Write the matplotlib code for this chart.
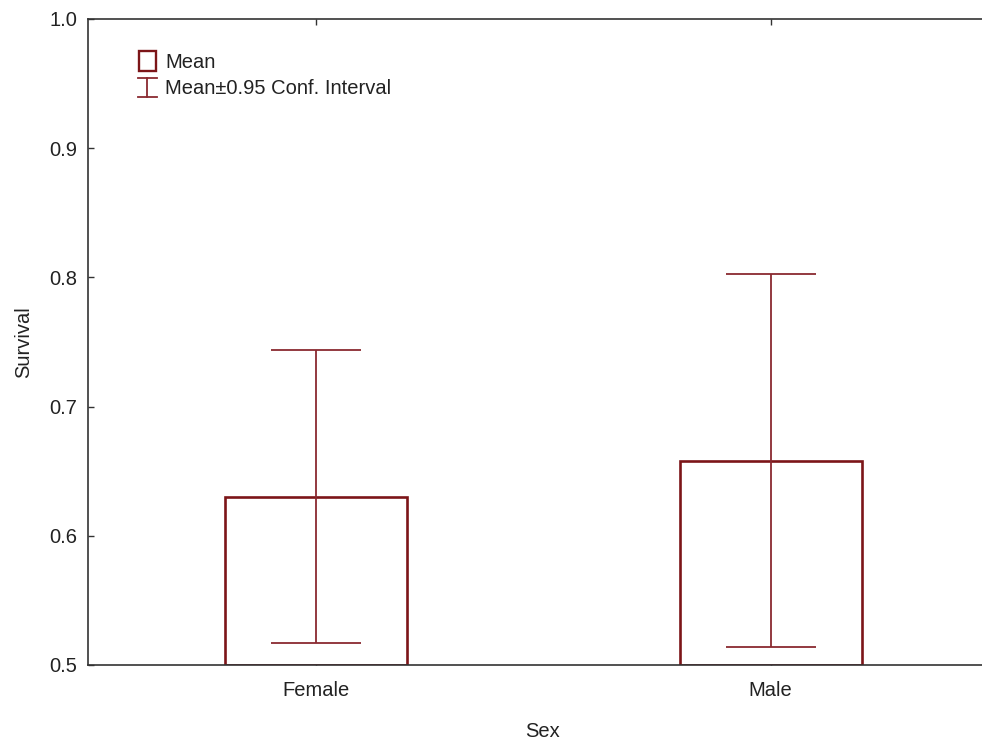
import matplotlib
matplotlib.use("Agg")
import matplotlib.pyplot as plt
from matplotlib.patches import Rectangle
from matplotlib.lines import Line2D

categories = ["Female", "Male"]
means = [0.630, 0.658]
ci_low = [0.517, 0.514]
ci_high = [0.744, 0.803]
y_ticks = [0.5, 0.6, 0.7, 0.8, 0.9, 1.0]
legend_labels = ["Mean", "Mean±0.95 Conf. Interval"]

plt.rcParams['font.family'] = ['Liberation Sans', 'DejaVu Sans']
bar_col = '#7c1518'
err_col = '#8a2a30'
txt_col = '#222222'
fs = 14.5

fig = plt.figure(figsize=(9.82, 7.44), dpi=100)
W, H = 982, 744
ax = fig.add_axes([88 / W, (H - 665) / H, 910 / W, 646 / H])

x = list(range(len(categories)))
ax.bar(x, [m - 0.5 for m in means], bottom=0.5, width=0.4, facecolor='white',
       edgecolor=bar_col, linewidth=1.9, zorder=2)
yerr = [[m - l for m, l in zip(means, ci_low)], [h - m for m, h in zip(means, ci_high)]]
ax.errorbar(x, means, yerr=yerr, fmt='none', ecolor=err_col, elinewidth=1.3,
            capsize=32.5, capthick=1.3, zorder=3)

ax.set_xlim(-0.5, 1.5)
ax.set_ylim(0.5, 1.0)
ax.set_yticks(y_ticks)
ax.set_yticklabels([f"{v:.1f}" for v in y_ticks])
ax.set_xticks(x)
ax.set_xticklabels(categories)
for s in ['left', 'bottom', 'top']:
    ax.spines[s].set_color('#333333')
    ax.spines[s].set_linewidth(1.2)
ax.spines['right'].set_visible(False)
ax.tick_params(direction='in', length=4, width=1, color='#333333',
               labelsize=fs, labelcolor=txt_col,
               top=True, bottom=True, left=True, right=False)
ax.tick_params(axis='y', pad=8)
ax.tick_params(axis='x', pad=11.6)
ax.set_xlabel("Sex", fontsize=fs, color=txt_col, labelpad=15.5)
ax.set_ylabel("Survival", fontsize=fs, color=txt_col, labelpad=11)

# legend drawn manually in figure pixel coordinates
def fx(px):
    return px / W

def fy(py):
    return 1 - py / H

fig.patches.append(Rectangle((fx(139), fy(71)), fx(156) - fx(139), fy(51) - fy(71),
                             transform=fig.transFigure, facecolor='white',
                             edgecolor=bar_col, linewidth=1.7))
for seg in [((147, 147), (78, 97)), ((138, 157), (78, 78)), ((138, 157), (97, 97))]:
    fig.lines.append(Line2D([fx(p) for p in seg[0]], [fy(p) for p in seg[1]],
                            transform=fig.transFigure, color=err_col, linewidth=1.3))
fig.text(fx(165), fy(62), legend_labels[0], fontsize=fs, color=txt_col, va='center', ha='left')
fig.text(fx(165), fy(88), legend_labels[1], fontsize=fs, color=txt_col, va='center', ha='left')

fig.savefig("out.png", dpi=100)
